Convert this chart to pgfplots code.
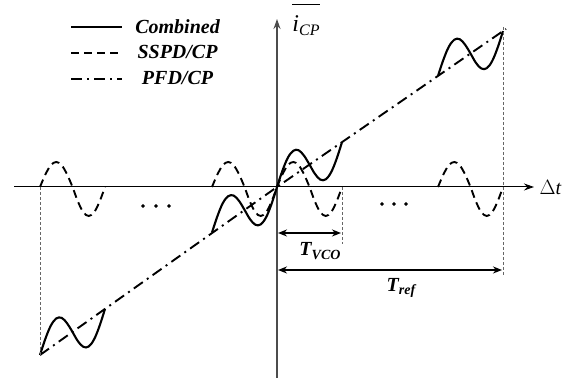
\documentclass[border=0pt]{standalone}
\usepackage{pgfplots}
\pgfplotsset{compat=1.18}
\usepackage{fontspec}
\setmainfont{Liberation Serif}
\usetikzlibrary{arrows.meta}

\tikzset{
  comb/.style={black, line width=2.1pt, smooth, tension=0.6},
  sspd/.style={black, line width=1.9pt, dash pattern=on 8pt off 5pt, smooth, tension=0.6},
  pfd/.style={black, line width=1.9pt, dash pattern=on 11pt off 5pt on 2pt off 5pt},
  guide/.style={gray!80!black, line width=0.9pt, dash pattern=on 3pt off 2pt},
  big/.style={font=\fontsize{20}{24}\selectfont},
}

\begin{document}
\begin{tikzpicture}
\begin{axis}[
  scale only axis, width=574pt, height=382pt,
  xmin=-277, xmax=297, ymin=-195, ymax=187,
  axis lines=none, clip=false,
  legend style={at={(axis cs:-210,172)}, anchor=north west, draw=none, fill=none,
    font=\fontsize{20}{24}\selectfont\bfseries\itshape, row sep=7pt,
    /tikz/every odd column/.append style={column sep=10pt}},
  legend cell align=center,
  legend image code/.code={\draw[#1] (0pt,0pt) -- (51pt,0pt);},
]
% delta-t axis and the mean charge-pump current axis
\draw[black, line width=1pt, -{Stealth[length=10pt,width=7pt]}] (axis cs:-263,0) -- (axis cs:257,0);
\draw[black!70, line width=1.6pt, -{Stealth[length=10pt,width=7pt]}] (axis cs:0,-191) -- (axis cs:0,168);

% combined characteristic, one period around each edge
\addplot[comb] coordinates {
 (0,0) (5.4,16.2) (10.8,29.2) (16.3,36.2) (21.7,36.7) (27.1,31.2) (32.5,22.4)
 (37.9,13.2) (43.3,7.4) (48.8,7.7) (54.2,14.9) (59.6,28.1) (65,44.9)};
\addlegendentry{Combined}
% sub-sampling phase detector alone
\addplot[sspd] coordinates {
 (0,0) (5.4,12.5) (10.8,21.7) (16.3,25) (21.7,21.7) (27.1,12.5) (32.5,0)
 (37.9,-14.5) (43.3,-25.1) (48.8,-29) (54.2,-25.1) (59.6,-14.5) (65,0)};
\addlegendentry{SSPD/CP}
% phase-frequency detector alone
\addplot[pfd] coordinates {(-237,-168) (0,0) (229,158)};
\addlegendentry{PFD/CP}

\addplot[comb, forget plot] coordinates {
 (-65,-45.5) (-59.6,-29.2) (-54.2,-16.2) (-48.8,-9.2) (-43.3,-8.6) (-37.9,-14.0)
 (-32.5,-22.8) (-27.1,-32.0) (-21.7,-37.7) (-16.3,-37.4) (-10.8,-30.1) (-5.4,-16.8) (0,0)};
\addplot[comb, forget plot] coordinates {
 (-237,-168) (-231.6,-151.7) (-226.2,-138.7) (-220.8,-131.5) (-215.3,-130.9) (-209.9,-136.3)
 (-204.5,-145.0) (-199.1,-154.2) (-193.7,-159.8) (-188.3,-159.5) (-182.8,-152.1) (-177.4,-138.8) (-172,-121.9)};
\addplot[comb, forget plot] coordinates {
 (161,111.1) (166.4,127.3) (171.8,140.2) (177.3,147.3) (182.7,147.8) (188.1,142.3)
 (193.5,133.5) (198.9,124.2) (204.3,118.5) (209.8,118.8) (215.2,126.0) (220.6,139.2) (226,155.9)};

\addplot[sspd, forget plot] coordinates {
 (-65,0) (-59.6,12.5) (-54.2,21.7) (-48.8,25) (-43.3,21.7) (-37.9,12.5) (-32.5,0)
 (-27.1,-14.5) (-21.7,-25.1) (-16.3,-29) (-10.8,-25.1) (-5.4,-14.5) (0,0)};
\addplot[sspd, forget plot] coordinates {
 (-237,0) (-231.6,12.5) (-226.2,21.7) (-220.8,25) (-215.3,21.7) (-209.9,12.5) (-204.5,0)
 (-199.1,-14.5) (-193.7,-25.1) (-188.3,-29) (-182.8,-25.1) (-177.4,-14.5) (-172,0)};
\addplot[sspd, forget plot] coordinates {
 (161,0) (166.4,12.5) (171.8,21.7) (177.3,25) (182.7,21.7) (188.1,12.5) (193.5,0)
 (198.9,-14.5) (204.3,-25.1) (209.8,-29) (215.2,-25.1) (220.6,-14.5) (226,0)};

% ellipses for the omitted periods
\addplot[only marks, mark=*, mark size=1.6pt, black, forget plot] coordinates {
 (-134,-19) (-121,-19) (-108,-19) (105,-17) (117,-17) (129,-17)};

% guide lines for the periods
\draw[guide] (axis cs:-237,0) -- (axis cs:-237,-168);
\draw[guide] (axis cs:65,0) -- (axis cs:65,-57);
\draw[guide] (axis cs:226,160) -- (axis cs:226,-88);

% period dimensions
\draw[black, line width=1.6pt, {Stealth[length=9pt,width=7pt]}-{Stealth[length=9pt,width=7pt]}]
  (axis cs:1,-46) -- (axis cs:64,-46);
\draw[black, line width=1.6pt, {Stealth[length=9pt,width=7pt]}-{Stealth[length=9pt,width=7pt]}]
  (axis cs:1,-83) -- (axis cs:225,-83);
\node[big] at (axis cs:43,-64) {\bfseries\itshape T\raisebox{-0.35ex}{\fontsize{14}{16}\selectfont VCO}};
\node[big] at (axis cs:124,-101) {\bfseries\itshape T\raisebox{-0.35ex}{\fontsize{14}{16}\selectfont ref}};

% axis names
\node[big, anchor=west] at (axis cs:259,-1) {$\Delta$\textit{t}};
\node[font=\fontsize{24}{28}\selectfont] at (axis cs:29,167)
  {$\overline{\mbox{\rule{0pt}{1.05em}\textit{i}\raisebox{-0.45ex}{\fontsize{16}{18}\selectfont\textit{CP}}}}$};
\end{axis}
\pgfresetboundingbox
\path (0,0) rectangle (574pt,382pt);
\end{tikzpicture}
\end{document}
